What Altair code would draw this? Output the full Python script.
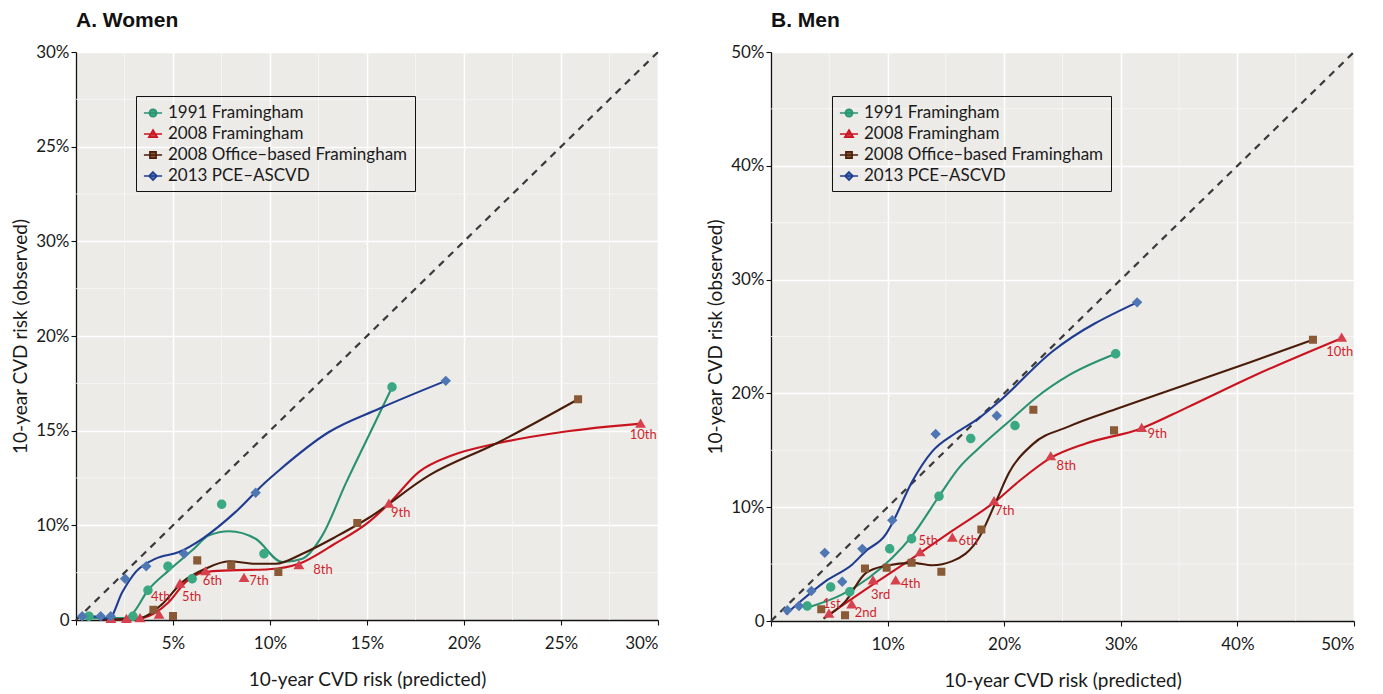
import altair as alt
import pandas as pd

SERIES = ["1991 Framingham", "2008 Framingham", "2008 Office–based Framingham", "2013 PCE–ASCVD"]
LINE_COLORS = ["#2a9271", "#c9141f", "#4b1c0a", "#1f3c90"]
POINT_COLORS = ["#3aa883", "#d7414e", "#8a5a36", "#4e77b4"]

# ---------------- Women: observed decile points ----------------
w_pts_1991_x = [0.67, 2.94, 3.71, 4.74, 5.99, 7.51, 9.69, 16.29]
w_pts_1991_y = [0.2, 0.2, 1.57, 2.84, 2.18, 6.11, 3.50, 12.31]
w_pts_2008_x = [1.8, 2.6, 3.3, 4.28, 5.36, 6.68, 8.66, 11.49, 16.13, 29.1]
w_pts_2008_y = [0.05, 0.05, 0.1, 0.28, 1.92, 2.57, 2.22, 2.89, 6.14, 10.37]
w_pts_office_x = [3.99, 5.0, 6.25, 8.0, 10.43, 14.5, 25.88]
w_pts_office_y = [0.54, 0.21, 3.15, 2.89, 2.54, 5.12, 11.66]
w_pts_pce_x = [0.32, 1.27, 1.79, 2.53, 3.62, 5.57, 9.26, 19.06]
w_pts_pce_y = [0.2, 0.2, 0.2, 2.18, 2.84, 3.50, 6.72, 12.63]

# ---------------- Women: smoothed curves ----------------
w_cur_1991_x = [0.3, 2.5, 2.9, 3.71, 4.79, 5.99, 6.86, 7.89, 9.26, 10.63, 11.67, 12.7, 13.9, 15.1, 16.3]
w_cur_1991_y = [0.1, 0.1, 0.33, 1.57, 2.62, 3.68, 4.47, 4.69, 4.29, 3.06, 3.24, 4.47, 7.2, 9.76, 12.31]
w_cur_2008_x = [1.3, 2.4, 3.42, 4.79, 5.65, 6.68, 7.89, 9.95, 11.49, 13.3, 15.1, 16.13, 17.68, 19.4, 21.63, 25.07, 29.1]
w_cur_2008_y = [0.0, 0.0, 0.1, 0.95, 2.0, 2.54, 2.62, 2.68, 2.97, 4.0, 5.18, 6.14, 7.82, 8.7, 9.31, 9.93, 10.37]
w_cur_office_x = [1.3, 3.3, 4.4, 5.48, 6.68, 7.89, 9.26, 10.29, 11.67, 13.4, 15.1, 18.2, 21.63, 25.88]
w_cur_office_y = [0.0, 0.1, 0.8, 2.0, 2.71, 3.1, 2.97, 2.97, 3.5, 4.4, 5.4, 7.64, 9.31, 11.66]
w_cur_pce_x = [0.1, 0.8, 1.7, 2.39, 3.08, 4.11, 5.31, 6.51, 8.23, 9.78, 10.46, 13.04, 15.62, 19.06]
w_cur_pce_y = [0.15, 0.2, 0.07, 1.48, 2.54, 3.24, 3.59, 4.29, 5.71, 7.29, 7.9, 9.93, 11.16, 12.63]

# ---------------- Women: decile labels ----------------
w_lab_text = ["4th", "5th", "6th", "7th", "8th", "9th", "10th"]
w_lab_x = [4.37, 5.96, 7.03, 9.43, 12.73, 16.74, 29.24]
w_lab_y = [1.21, 1.21, 2.04, 2.04, 2.66, 5.67, 9.76]

# ---------------- Men: observed decile points ----------------
m_pts_1991_x = [3.11, 5.12, 6.75, 10.18, 12.06, 14.41, 17.13, 20.93, 29.56]
m_pts_1991_y = [1.32, 2.98, 2.57, 6.34, 7.22, 10.96, 16.03, 17.17, 23.48]
m_pts_2008_x = [4.97, 6.92, 8.75, 10.69, 12.78, 15.55, 19.13, 23.99, 31.79, 48.94]
m_pts_2008_y = [0.64, 1.46, 3.57, 3.57, 6.05, 7.31, 10.53, 14.47, 16.96, 24.9]
m_pts_office_x = [4.31, 6.35, 8.06, 9.92, 12.06, 14.61, 18.04, 22.5, 29.42, 46.48]
m_pts_office_y = [1.03, 0.5, 4.62, 4.68, 5.11, 4.32, 8.04, 18.57, 16.75, 24.71]
m_pts_pce_x = [1.40, 2.40, 3.46, 4.61, 6.11, 7.83, 10.40, 14.12, 19.36, 31.4]
m_pts_pce_y = [0.94, 1.32, 2.63, 5.99, 3.45, 6.34, 8.86, 16.43, 18.04, 28.0]

# ---------------- Men: smoothed curves ----------------
m_cur_1991_x = [3.11, 6.11, 8.4, 10.4, 12.12, 14.41, 16.12, 17.84, 20.7, 22.7, 25.56, 29.56]
m_cur_1991_y = [1.17, 2.34, 3.8, 5.55, 7.5, 10.96, 13.45, 15.2, 17.8, 19.6, 21.6, 23.48]
m_cur_2008_x = [4.6, 8.0, 11.83, 15.5, 19.27, 21.27, 23.99, 27.0, 31.7, 35.57, 41.28, 48.94]
m_cur_2008_y = [0.3, 2.7, 5.3, 7.9, 10.53, 12.28, 14.33, 15.6, 16.9, 18.71, 21.49, 24.85]
m_cur_office_x = [4.5, 6.4, 8.12, 9.84, 12.12, 13.83, 15.55, 17.84, 19.3, 20.4, 22.41, 25.56, 29.85, 35.57, 41.28, 46.48]
m_cur_office_y = [0.2, 1.75, 4.2, 4.85, 5.11, 4.9, 5.26, 7.31, 10.5, 13.0, 15.5, 17.1, 18.71, 20.76, 22.8, 24.71]
m_cur_pce_x = [1.26, 2.40, 4.69, 6.97, 8.12, 9.84, 10.4, 12.12, 13.83, 15.84, 17.84, 19.41, 24.13, 31.4]
m_cur_pce_y = [0.59, 1.61, 3.51, 4.97, 6.14, 7.61, 8.6, 12.28, 14.91, 16.52, 17.83, 19.15, 23.68, 28.0]

# ---------------- Men: decile labels ----------------
m_lab_text = ["1st", "2nd", "3rd", "4th", "5th", "6th", "7th", "8th", "9th", "10th"]
m_lab_x = [5.21, 8.12, 9.41, 11.98, 13.49, 16.92, 20.04, 25.33, 33.13, 48.77]
m_lab_y = [1.52, 0.68, 2.25, 3.27, 7.02, 7.02, 9.65, 13.6, 16.43, 23.62]

# ---------------- Axes ----------------
w_major = [0, 5, 10, 15, 20, 25, 30]
w_minor = [2.5, 7.5, 12.5, 17.5, 22.5, 27.5]
w_xlabels = ["", "5%", "10%", "15%", "20%", "25%", "30%"]
w_ylabels = ["0", "10%", "15%", "20%", "30%", "25%", "30%"]
m_major = [0, 10, 20, 30, 40, 50]
m_minor = [5, 15, 25, 35, 45]
m_xlabels = ["", "10%", "20%", "30%", "40%", "50%"]
m_ylabels = ["0", "10%", "20%", "30%", "40%", "50%"]

BG = "#ecebe8"
FONT = "Lato"

# marker glyphs (unit box -1..1). The open "M-1,0H1" stroke-only segment has no
# fill area, so it is invisible on the (unstroked) plotted markers but shows as
# the line through the marker in the legend, where symbols are stroked.
MARKER_PATHS = [
    "M-1,0H1M0.4,0A0.4,0.4 0 1,1 -0.4,0A0.4,0.4 0 1,1 0.4,0Z",
    "M-1,0H1M0,-0.44L0.46,0.34L-0.46,0.34Z",
    "M-1,0H1M-0.34,-0.34H0.34V0.34H-0.34Z",
    "M-1,0H1M0,-0.44L0.44,0L0,0.44L-0.44,0Z",
]


def frame(groups):
    rows = []
    for name, xs, ys in groups:
        for i, (a, b) in enumerate(zip(xs, ys)):
            rows.append({"series": name, "x": a, "y": b, "i": i})
    return pd.DataFrame(rows)


def label_expr(values, labels):
    vals = ",".join(str(v) for v in values)
    labs = ",".join("'" + s + "'" for s in labels)
    return f"[{labs}][indexof([{vals}], datum.value)]"


def legend(lx, ly):
    return alt.Legend(
        title=None, orient="none", legendX=lx, legendY=ly, padding=7,
        strokeColor="#111", labelFont=FONT, labelFontSize=17, labelColor="#1a1a1a",
        labelOffset=5, symbolSize=330, symbolStrokeWidth=1.6, rowPadding=3, labelLimit=400,
    )


def panel(title, pts, cur, labs, xmax, major, minor, xlabels, ylabels, lx, ly, w, h):
    xs = alt.Scale(domain=[0, xmax], nice=False, zero=False)
    ys = alt.Scale(domain=[0, xmax], nice=False, zero=False)
    xaxis = alt.Axis(values=major, labelExpr=label_expr(major, xlabels), grid=True,
                     title="10-year CVD risk (predicted)", titlePadding=19, labelPadding=10)
    yaxis = alt.Axis(values=major, labelExpr=label_expr(major, ylabels), grid=True,
                     title="10-year CVD risk (observed)", titlePadding=5, labelPadding=2)
    X = alt.X("x:Q", scale=xs, axis=xaxis)
    Y = alt.Y("y:Q", scale=ys, axis=yaxis)

    minor_df = pd.DataFrame({"v": minor})
    vgrid = alt.Chart(minor_df).mark_rule(color="#f8f7f5", strokeWidth=0.8).encode(
        x=alt.X("v:Q", scale=xs, axis=xaxis))
    hgrid = alt.Chart(minor_df).mark_rule(color="#f8f7f5", strokeWidth=0.8).encode(
        y=alt.Y("v:Q", scale=ys, axis=yaxis))

    diag_df = pd.DataFrame({"x": [0, xmax], "y": [0, xmax]})
    diag = alt.Chart(diag_df).mark_line(color="#3a3a3a", strokeWidth=2.2, strokeDash=[7, 6]).encode(x=X, y=Y)

    leg = legend(lx, ly)
    lines = alt.Chart(cur).mark_line(interpolate="monotone", strokeWidth=2.1).encode(
        x=X, y=Y,
        stroke=alt.Stroke("series:N", scale=alt.Scale(domain=SERIES, range=LINE_COLORS), legend=leg),
        order="i:Q",
    )

    points = alt.Chart(pts).mark_point(filled=True, size=560, opacity=1).encode(
        x=X, y=Y,
        color=alt.Color("series:N", scale=alt.Scale(domain=SERIES, range=POINT_COLORS), legend=leg),
        shape=alt.Shape("series:N", scale=alt.Scale(domain=SERIES, range=MARKER_PATHS), legend=leg),
    )

    text = alt.Chart(labs).mark_text(color="#d01f2c", fontSize=13, font=FONT).encode(
        x=X, y=Y, text="t:N",
    )

    return alt.layer(vgrid, hgrid, diag, lines, points, text).properties(
        width=w, height=h,
        title=alt.TitleParams(title, anchor="start", frame="group", font="Liberation Sans",
                              fontSize=21, fontWeight="bold", color="#111", offset=12),
    )


w_pts = frame([(SERIES[0], w_pts_1991_x, w_pts_1991_y), (SERIES[1], w_pts_2008_x, w_pts_2008_y),
               (SERIES[2], w_pts_office_x, w_pts_office_y), (SERIES[3], w_pts_pce_x, w_pts_pce_y)])
w_cur = frame([(SERIES[0], w_cur_1991_x, w_cur_1991_y), (SERIES[1], w_cur_2008_x, w_cur_2008_y),
               (SERIES[2], w_cur_office_x, w_cur_office_y), (SERIES[3], w_cur_pce_x, w_cur_pce_y)])
w_lab = pd.DataFrame({"t": w_lab_text, "x": w_lab_x, "y": w_lab_y})
m_pts = frame([(SERIES[0], m_pts_1991_x, m_pts_1991_y), (SERIES[1], m_pts_2008_x, m_pts_2008_y),
               (SERIES[2], m_pts_office_x, m_pts_office_y), (SERIES[3], m_pts_pce_x, m_pts_pce_y)])
m_cur = frame([(SERIES[0], m_cur_1991_x, m_cur_1991_y), (SERIES[1], m_cur_2008_x, m_cur_2008_y),
               (SERIES[2], m_cur_office_x, m_cur_office_y), (SERIES[3], m_cur_pce_x, m_cur_pce_y)])
m_lab = pd.DataFrame({"t": m_lab_text, "x": m_lab_x, "y": m_lab_y})

women = panel("A. Women", w_pts, w_cur, w_lab, 30, w_major, w_minor, w_xlabels, w_ylabels, 60, 44, 582, 568)
men = panel("B. Men", m_pts, m_cur, m_lab, 50, m_major, m_minor, m_xlabels, m_ylabels, 61, 44, 583, 569)

chart = alt.hconcat(women, men, spacing=43).resolve_scale(
    color="independent", stroke="independent", shape="independent", x="independent", y="independent"
).resolve_legend(color="independent", shape="independent", stroke="independent").configure_view(
    fill=BG, stroke=None
).configure_axis(
    domainColor="#111", domainWidth=1.3, tickColor="#111", tickSize=5, tickWidth=1.1,
    labelFont=FONT, labelFontSize=17, labelColor="#1a1a1a",
    titleFont=FONT, titleFontSize=19, titleFontWeight="normal", titleColor="#1a1a1a",
    gridColor="#ffffff", gridWidth=1.5,
).properties(background="white", padding={"left": 3, "top": 2, "right": 5, "bottom": 0})

chart.save("out.html", embed_options={"renderer": "svg", "actions": False})
